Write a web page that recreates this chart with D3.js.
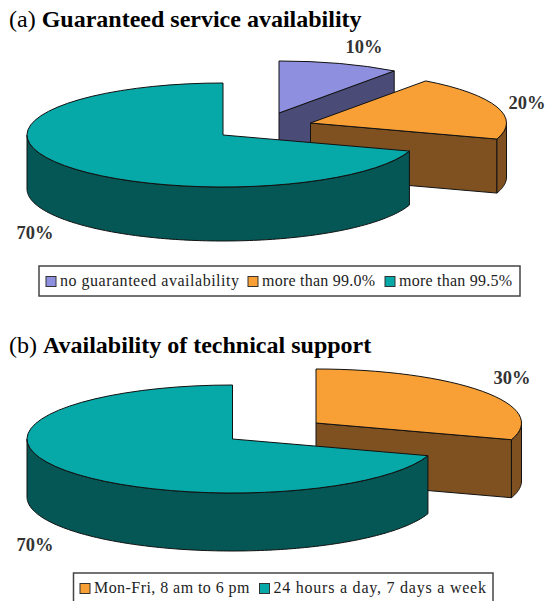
<!DOCTYPE html>
<html>
<head>
<meta charset="utf-8">
<script src="https://cdnjs.cloudflare.com/ajax/libs/d3/7.8.5/d3.min.js"></script>
<style>
  html, body { margin: 0; padding: 0; background: #fff; overflow: hidden; }
  text { font-family: "Liberation Serif", serif; }
  .title { font-size: 24px; fill: #000; }
  .pct { font-size: 18.5px; font-weight: bold; fill: #333; }
  .legend-label { font-size: 16px; fill: #222; }
</style>
</head>
<body>
<script>
const width = 547,
    height = 601;

// (a) Guaranteed service availability
const categoriesA = ['no guaranteed availability', 'more than 99.0%', 'more than 99.5%'];
const valuesA = [10, 20, 70];
const colorKeysA = ['blue', 'orange', 'teal'];

// (b) Availability of technical support
const categoriesB = ['Mon-Fri, 8 am to 6 pm', '24 hours a day, 7 days a week'];
const valuesB = [30, 70];
const colorKeysB = ['orange', 'teal'];

const colors = {
    blue: {top: '#8f8fdf', side: '#4b4b78'},
    orange: {top: '#f8a036', side: '#7f5020'},
    teal: {top: '#06a8a8', side: '#055755'}
};

const svg = d3.select('body').append('svg')
    .attr('width', width)
    .attr('height', height)
    .style('display', 'block');

function renderTitle(tag, name, y) {
    const t = svg.append('text').attr('class', 'title').attr('x', 9).attr('y', y);
    t.append('tspan').text(tag + ' ');
    t.append('tspan').attr('font-weight', 'bold').text(name);
}

function renderPie(values, keys, o) {
    const arcs = d3.pie().sort(null)(values);
    const arc = d3.arc().innerRadius(0).outerRadius(o.rx);
    const px = (c, a) => c.x + o.rx * Math.sin(a);
    const py = (c, a) => c.y - o.ry * Math.cos(a);

    // back slices first, so the front ones cover them
    arcs.forEach((d, i) => {
        const c = o.centers[i];
        const col = colors[keys[i]];
        const g = svg.append('g')
            .attr('stroke', '#111')
            .attr('stroke-width', 1)
            .attr('stroke-linejoin', 'round');

        // cut face at the clockwise end of the slice
        if (Math.sin(d.endAngle) > 0.001) {
            const ex = px(c, d.endAngle), ey = py(c, d.endAngle);
            g.append('path')
                .attr('fill', col.side)
                .attr('d', d3.line()([[c.x, c.y], [ex, ey], [ex, ey + o.depth], [c.x, c.y + o.depth]]) + 'Z');
        }

        // outer rim, only the front half of the ellipse shows
        const a0 = Math.max(d.startAngle, Math.PI / 2),
            a1 = Math.min(d.endAngle, Math.PI * 3 / 2);
        if (a1 > a0) {
            const rim = d3.area()
                .x(a => px(c, a))
                .y0(a => py(c, a))
                .y1(a => py(c, a) + o.depth);
            g.append('path')
                .attr('fill', col.side)
                .attr('d', rim(d3.range(a0, a1, 0.02).concat([a1])));
        }

        g.append('path')
            .attr('fill', col.top)
            .attr('vector-effect', 'non-scaling-stroke')
            .attr('transform', 'translate(' + c.x + ',' + c.y + ') scale(1,' + (o.ry / o.rx) + ')')
            .attr('d', arc(d));
    });

    svg.selectAll(null)
        .data(arcs)
        .enter()
        .append('text')
        .attr('class', 'pct')
        .attr('text-anchor', 'middle')
        .attr('x', (d, i) => o.labels[i][0])
        .attr('y', (d, i) => o.labels[i][1])
        .text(d => d.value + '%');
}

function renderLegend(categories, keys, o) {
    const g = svg.append('g');
    g.append('rect')
        .attr('x', o.x).attr('y', o.y)
        .attr('width', o.w).attr('height', o.h)
        .attr('fill', '#fff')
        .attr('stroke', '#444')
        .attr('stroke-width', 1.5);

    categories.forEach((name, i) => {
        g.append('rect')
            .attr('x', o.swatches[i]).attr('y', o.y + 10.5)
            .attr('width', 10).attr('height', 10)
            .attr('fill', colors[keys[i]].top)
            .attr('stroke', '#333');
        g.append('text')
            .attr('class', 'legend-label')
            .attr('x', o.swatches[i] + 14)
            .attr('y', o.y + 20)
            .attr('textLength', o.lengths[i])
            .attr('lengthAdjust', 'spacing')
            .text(name);
    });
}

renderTitle('(a)', 'Guaranteed service availability', 27);
renderPie(valuesA, colorKeysA, {
    rx: 196, ry: 52, depth: 54,
    centers: [{x: 279, y: 113}, {x: 310.5, y: 123}, {x: 223, y: 135}],
    labels: [[364, 53], [527, 109], [35, 239]]
});
renderLegend(categoriesA, colorKeysA, {
    x: 39, y: 266, w: 481, h: 30,
    swatches: [46, 248, 385],
    lengths: [179, 113, 113]
});

renderTitle('(b)', 'Availability of technical support', 353);
renderPie(valuesB, colorKeysB, {
    rx: 205.5, ry: 54, depth: 58,
    centers: [{x: 316, y: 423}, {x: 232.5, y: 439}],
    labels: [[512, 384], [35, 551]]
});
renderLegend(categoriesB, colorKeysB, {
    x: 73.5, y: 573, w: 419.5, h: 40,
    swatches: [80, 259.5],
    lengths: [155.5, 212.5]
});
</script>
</body>
</html>
